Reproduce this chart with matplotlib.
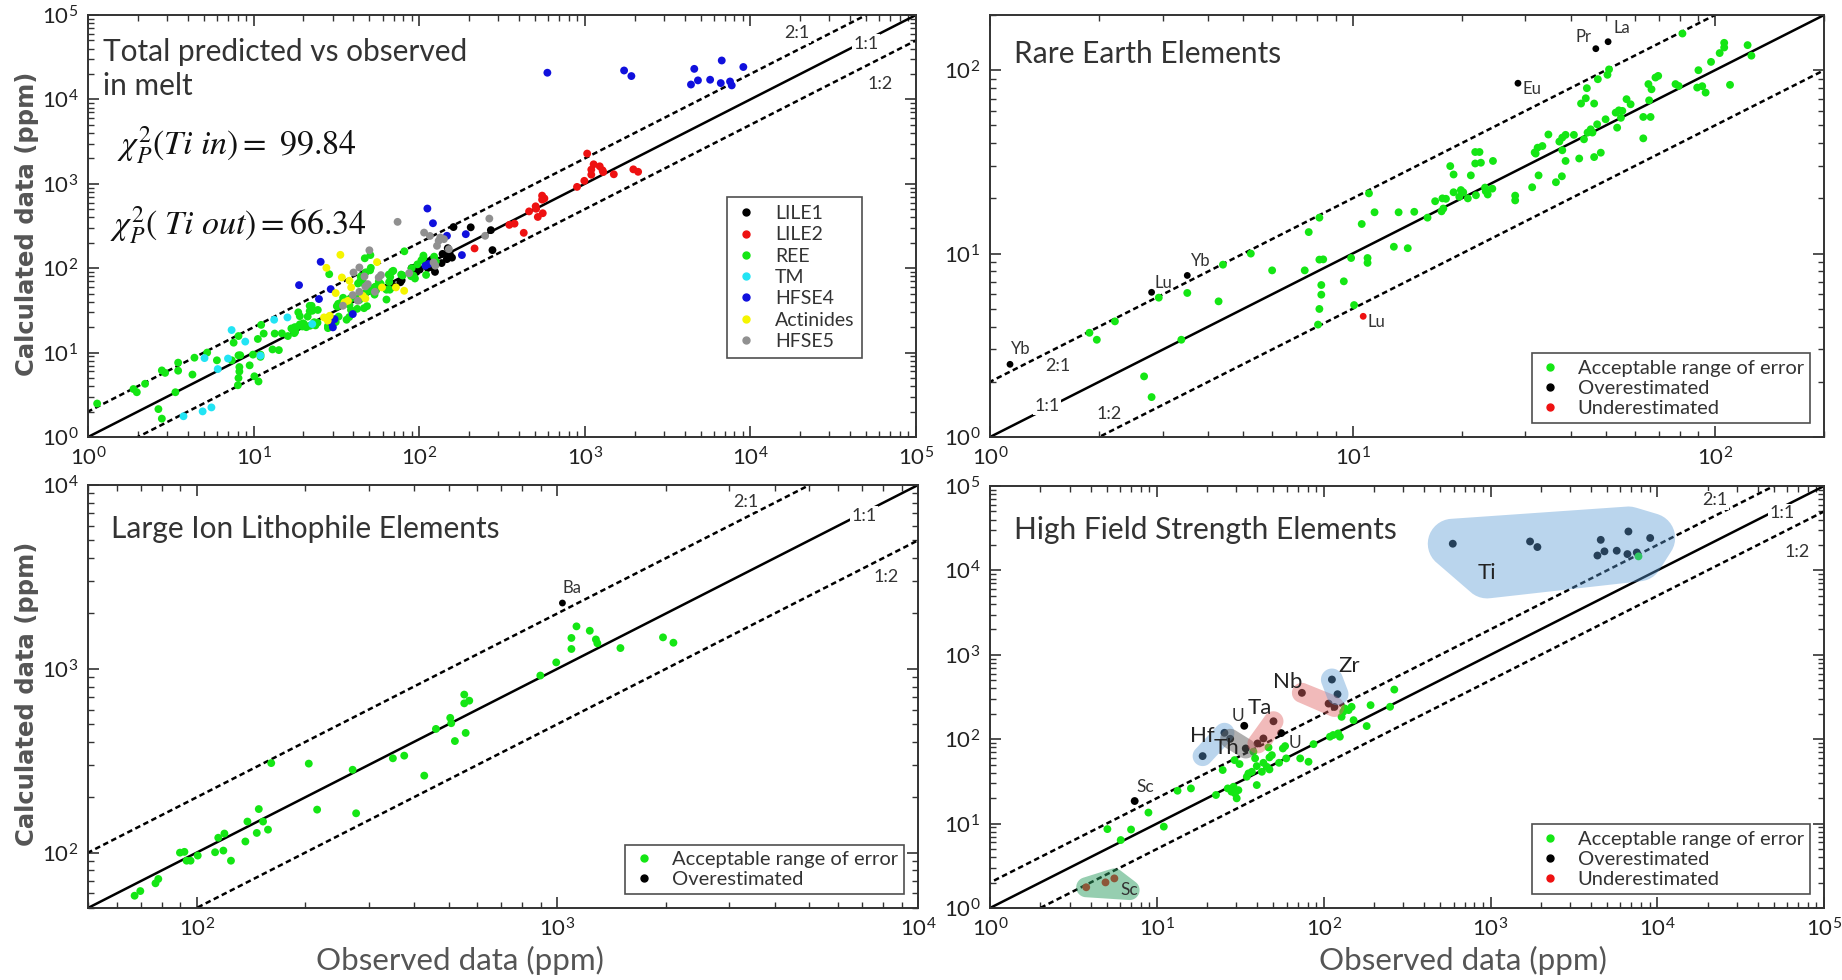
import numpy as np
import matplotlib.pyplot as plt
from matplotlib.lines import Line2D
from matplotlib.patches import Polygon
from matplotlib.ticker import LogLocator, NullFormatter

# ---------------- data ----------------
# Rare earth elements (unlabelled points)
ree_x = [1.88, 1.97, 2.21, 2.66, 2.79, 2.92, 3.37, 3.5, 4.27, 4.39, 5.24, 6.0, 7.38, 7.57, 8.1, 8.1, 8.3,
         8.2, 8.2, 8.1, 8.03, 9.46, 9.91, 10.1, 10.6, 11.0, 11.0, 11.5, 13.0, 13.4, 14.2,
         11.1, 14.8, 16.1, 16.9, 17.7, 18.1, 17.6, 17.8, 18.6, 19.0, 19.0, 19.9, 20.2, 19.7, 20.8, 21.2,
         21.8, 22.4, 21.8, 22.6, 21.9, 23.2, 24.3, 23.6, 23.3, 24.4, 28.1, 28.1, 31.3, 32.6, 31.8, 33.4,
         32.4, 32.0, 34.7, 36.4, 37.8, 37.2, 37.9, 38.7, 40.8, 37.9, 38.7, 42.2, 43.5, 44.5, 45.4, 45.9,
         46.4, 48.4, 47.3, 42.7, 44.0, 46.4, 44.3, 47.5, 50.5, 51.0, 49.9, 53.7, 53.2, 54.3, 55.0, 55.5,
         57.0, 58.5, 63.4, 66.4, 63.4, 65.8, 65.5, 66.8, 68.5, 69.7, 77.8, 79.4, 81.3, 90.0, 89.3, 92.2,
         94.2, 97.5, 103, 106, 106, 110, 123, 126]
ree_y = [3.7, 3.39, 4.27, 2.14, 1.65, 5.75, 3.39, 6.1, 5.49, 8.7, 10.0, 8.1, 8.1, 13.1, 15.7, 9.27, 9.3,
         6.74, 5.97, 4.99, 4.1, 7.06, 9.46, 5.24, 14.5, 9.46, 8.9, 16.8, 10.9, 16.8, 10.7,
         21.3, 16.9, 15.7, 19.3, 20.0, 19.9, 17.0, 17.6, 30.0, 27.0, 21.6, 22.2, 21.6, 20.4, 20.0, 26.7,
         35.8, 35.8, 31.0, 31.3, 20.8, 22.9, 22.6, 21.0, 21.9, 32.0, 20.7, 19.5, 23.0, 26.7, 35.6, 38.6,
         37.8, 35.1, 44.6, 24.5, 26.4, 40.8, 42.9, 44.4, 44.4, 36.6, 32.0, 33.0, 42.0, 45.7, 47.6, 45.7,
         33.6, 35.5, 50.7, 65.8, 70.3, 65.8, 79.8, 89.3, 94.4, 101, 54.0, 48.6, 58.7, 60.4, 55.0, 60.0,
         69.5, 65.2, 55.6, 55.6, 42.5, 68.5, 84.0, 78.7, 91.2, 93.1, 84.0, 82.0, 158.5, 100, 80.4, 81.8,
         75.5, 111, 124, 133, 141, 83.2, 137, 120]
ree_tag = ['Yb', 'Lu', 'Yb', 'Eu', 'Pr', 'La', 'Lu']
ree_tag_x = [1.135, 2.79, 3.5, 28.6, 46.9, 50.7, 10.7]
ree_tag_y = [2.49, 6.15, 7.6, 84.9, 131, 143, 4.55]

# Large ion lithophile elements
lile1_x = [67.3, 69.8, 76.9, 78.3, 89.9, 92.5, 93.8, 96.2, 100.7, 112.5, 118.6, 114.8, 119.4, 124.5,
           136.5, 138.3, 146.8, 148.7, 152.8, 157.7, 161, 204.6, 270.7, 276.8]
lile1_y = [58.3, 61.8, 68.1, 71.9, 100, 101, 90.4, 90.4, 96.4, 100.5, 102.6, 120.5, 127, 90.4,
           115, 147.6, 128, 172.6, 147.6, 133.4, 307, 305, 282.4, 163.7]
lile2_x = [215.8, 350, 376.3, 427.6, 460.7, 504.7, 508, 520, 552, 552, 570, 557, 897, 993, 1094, 1094,
           1130, 1230, 1279, 1291, 1496, 1963, 2098]
lile2_y = [171.4, 326, 337, 262.4, 471, 541, 506, 404.6, 724, 649, 671, 448, 919, 1084, 1282, 1472,
           1702, 1611, 1445, 1377, 1297, 1483, 1387]
ba_x = [1033]
ba_y = [2280]

# High field strength elements, by element / group
sc_x = [3.77, 4.92, 5.56, 7.36]
sc_y = [1.76, 2.01, 2.24, 18.5]
tm_x = [5.05, 6.07, 7.0, 8.9, 11.0, 13.3, 16.0, 22.6]
tm_y = [8.6, 6.38, 8.5, 13.5, 9.2, 24.5, 26.1, 21.8]
ti_x = [594, 1726, 1910, 4580, 4375, 4820, 5710, 6710, 6620, 7530, 9060, 7710]
ti_y = [20700, 22000, 18900, 23000, 15000, 16800, 17100, 28900, 15600, 16300, 24200, 14650]
zr_x = [112, 121]
zr_y = [509, 341]
hf_x = [18.8, 25.4]
hf_y = [63, 119]
hfse4_x = [24.8, 29.2, 29.4, 30.1, 30.8, 39.7, 181, 191, 147, 109, 114]
hfse4_y = [43.1, 56.5, 22.8, 19.9, 24.9, 28.6, 143, 253, 242, 107, 112]
th_x = [27.5, 34.1]
th_y = [101, 77.6]
u_x = [33.4, 55.6]
u_y = [144, 118]
act_x = [26.6, 28.8, 31.3, 35.4, 37.1, 38.8, 59.6, 72.3, 81.1, 37.9, 45.6, 47.3, 28.0]
act_y = [26.1, 27.3, 50.7, 39.3, 41.1, 59.2, 59.2, 59.2, 54.0, 71.0, 47.1, 43.8, 23.9]
nb_x = [74, 107, 116]
nb_y = [354, 264, 241]
ta_x = [50, 43.5, 40.1]
ta_y = [163, 102, 88.9]
hfse5_x = [265, 250, 141, 128, 134, 131, 34.6, 47.3, 48.9, 58.7, 56.9, 54.0, 122, 125, 86.9, 151,
           39.7, 42.6, 43.5, 46.7]
hfse5_y = [387, 242, 221, 184, 231, 211, 35.9, 60.8, 64.7, 82.8, 77.6, 52.5, 117, 107, 87.3, 168,
           48.0, 41.1, 52.5, 79.8]

# ---------------- style ----------------
plt.rcParams['font.family'] = ['Lato', 'DejaVu Sans']
plt.rcParams['mathtext.fontset'] = 'stix'
plt.rcParams['axes.linewidth'] = 1.4
plt.rcParams['axes.edgecolor'] = '#333333'

GREEN = '#14e614'
RED = '#ee1111'
BLUE = '#1010dd'
CYAN = '#22e4f4'
YELLOW = '#f5f500'
GRAY = '#909090'
TXT = '#333333'
LBL = '#555555'
MS = 32


def status_colors(x, y):
    x = np.asarray(x, float)
    y = np.asarray(y, float)
    c = np.where(y > 2 * x, 'k', np.where(y < 0.5 * x, RED, GREEN))
    return c


def setup(ax, lim_x, lim_y):
    ax.set_xscale('log')
    ax.set_yscale('log')
    ax.set_xlim(lim_x)
    ax.set_ylim(lim_y)
    for a in (ax.xaxis, ax.yaxis):
        a.set_major_locator(LogLocator(base=10, numticks=20))
        a.set_minor_locator(LogLocator(base=10, subs=np.arange(2, 10), numticks=100))
        a.set_minor_formatter(NullFormatter())
    ax.tick_params(which='both', direction='in', top=True, right=True, colors='#333333',
                   labelsize=16, labelcolor='#222222', pad=7)
    ax.tick_params(which='major', length=8, width=1.2)
    ax.tick_params(which='minor', length=4, width=1.0)


def ratio_lines(ax, lab21, lab11, lab12):
    lo, hi = ax.get_xlim()
    xx = np.array([lo / 4, hi * 4])
    ax.plot(xx, xx, color='k', lw=1.8, zorder=2)
    ax.plot(xx, 2 * xx, color='k', lw=1.8, ls=(0, (2.2, 1.4)), zorder=2)
    ax.plot(xx, 0.5 * xx, color='k', lw=1.8, ls=(0, (2.2, 1.4)), zorder=2)
    for txt, pos in (('2:1', lab21), ('1:1', lab11), ('1:2', lab12)):
        ax.text(pos[0], pos[1], txt, fontsize=13, color=TXT, ha='center', va='center', zorder=6,
                bbox=dict(fc='white', ec='none', pad=1.0))


def hull(points):
    pts = sorted(map(tuple, points))

    def cross(o, a, b):
        return (a[0] - o[0]) * (b[1] - o[1]) - (a[1] - o[1]) * (b[0] - o[0])
    lower, upper = [], []
    for p in pts:
        while len(lower) >= 2 and cross(lower[-2], lower[-1], p) <= 0:
            lower.pop()
        lower.append(p)
    for p in reversed(pts):
        while len(upper) >= 2 and cross(upper[-2], upper[-1], p) <= 0:
            upper.pop()
        upper.append(p)
    return np.array(lower[:-1] + upper[:-1])


def blob(ax, xs, ys, pad, color, alpha):
    pts = ax.transData.transform(np.column_stack([xs, ys]))
    ang = np.linspace(0, 2 * np.pi, 40, endpoint=False)
    ring = np.column_stack([np.cos(ang), np.sin(ang)]) * pad
    cloud = (pts[:, None, :] + ring[None, :, :]).reshape(-1, 2)
    verts = ax.transData.inverted().transform(hull(cloud))
    ax.add_patch(Polygon(verts, closed=True, fc=color, ec='none', alpha=alpha, zorder=4))


def status_legend(ax, with_under=True):
    h = [Line2D([], [], marker='o', ls='none', color=GREEN, ms=5, label='Acceptable range of error'),
         Line2D([], [], marker='o', ls='none', color='k', ms=5, label='Overestimated')]
    if with_under:
        h.append(Line2D([], [], marker='o', ls='none', color=RED, ms=5, label='Underestimated'))
    leg = ax.legend(handles=h, loc='lower right', fontsize=14.5, frameon=True, fancybox=False,
                    edgecolor='#222222', handlelength=1.2, handletextpad=0.8, borderpad=0.3,
                    labelspacing=0.15, borderaxespad=0.7)
    leg.get_frame().set_linewidth(1.2)
    for t in leg.get_texts():
        t.set_color(TXT)


fig = plt.figure(figsize=(18.42, 9.8), dpi=100)
ax_tl = fig.add_axes([0.0478, 0.5541, 0.4495, 0.4306])
ax_tr = fig.add_axes([0.5375, 0.5541, 0.4528, 0.4306])
ax_bl = fig.add_axes([0.0478, 0.0735, 0.4506, 0.4316])
ax_br = fig.add_axes([0.5375, 0.0735, 0.4528, 0.4306])

# ---------------- top left: all groups ----------------
ax = ax_tl
setup(ax, (1, 1e5), (1, 1e5))
ratio_lines(ax, (19000, 61000), (50000, 45400), (60600, 15200))
groups = [
    ('LILE1', lile1_x, lile1_y, 'k'),
    ('LILE2', lile2_x + ba_x, lile2_y + ba_y, RED),
    ('REE', ree_x + ree_tag_x, ree_y + ree_tag_y, GREEN),
    ('TM', sc_x + tm_x, sc_y + tm_y, CYAN),
    ('HFSE4', ti_x + zr_x + hf_x + hfse4_x, ti_y + zr_y + hf_y + hfse4_y, BLUE),
    ('Actinides', th_x + u_x + act_x, th_y + u_y + act_y, YELLOW),
    ('HFSE5', nb_x + ta_x + hfse5_x, nb_y + ta_y + hfse5_y, GRAY),
]
handles = []
for name, gx, gy, col in groups:
    ax.scatter(gx, gy, s=MS, color=col, edgecolors='none', zorder=3)
    handles.append(Line2D([], [], marker='o', ls='none', color=col, ms=5, label=name))
leg = ax.legend(handles=handles, loc='lower right', bbox_to_anchor=(0.947, 0.165), fontsize=14,
                fancybox=False, edgecolor='#222222', handlelength=1.2, handletextpad=0.9,
                borderpad=0.4, labelspacing=0.22)
leg.get_frame().set_linewidth(1.2)
for t in leg.get_texts():
    t.set_color(TXT)
ax.text(0.018, 0.945, 'Total predicted vs observed\nin melt', transform=ax.transAxes, fontsize=21.5,
        color='#333333', va='top', ha='left', linespacing=1.25)
ax.text(0.035, 0.692, r'$\chi^2_P(Ti\ in) =\ 99.84$', transform=ax.transAxes, fontsize=24.5,
        va='center', ha='left', color='#111111')
ax.text(0.027, 0.502, r'$\chi^2_P(\ Ti\ out) = 66.34$', transform=ax.transAxes, fontsize=24.5,
        va='center', ha='left', color='#111111')

# ---------------- top right: REE ----------------
ax = ax_tr
setup(ax, (1, 200), (1, 200))
ratio_lines(ax, (1.54, 2.44), (1.436, 1.477), (2.13, 1.34))
ax.scatter(ree_x, ree_y, s=MS, c=status_colors(ree_x, ree_y), edgecolors='none', zorder=3)
ax.scatter(ree_tag_x, ree_tag_y, s=24, c=status_colors(ree_tag_x, ree_tag_y), edgecolors='none', zorder=3)
ree_offsets = [(1, 5, 'left', 'bottom'), (2, 1, 'left', 'bottom'), (3, 5, 'left', 'bottom'),
               (3, -4, 'left', 'center'), (-3, 3, 'right', 'bottom'), (4, 4, 'left', 'bottom'),
               (3, -4, 'left', 'center')]
for name, px, py, (dx, dy, ha, va) in zip(ree_tag, ree_tag_x, ree_tag_y, ree_offsets):
    ax.annotate(name, (px, py), xytext=(dx, dy), textcoords='offset points', ha=ha, va=va,
                fontsize=12, color=TXT, zorder=6)
ax.text(0.029, 0.94, 'Rare Earth Elements', transform=ax.transAxes, fontsize=21.5, color='#333333',
        va='top', ha='left')
status_legend(ax)

# ---------------- bottom left: LILE ----------------
ax = ax_bl
setup(ax, (50, 1e4), (50, 1e4))
ratio_lines(ax, (3327, 8090), (7100, 6790), (8170, 3160))
lile_x = lile1_x + lile2_x
lile_y = lile1_y + lile2_y
ax.scatter(lile_x, lile_y, s=MS, c=status_colors(lile_x, lile_y), edgecolors='none', zorder=3)
ax.scatter(ba_x, ba_y, s=24, c=status_colors(ba_x, ba_y), edgecolors='none', zorder=3)
ax.annotate('Ba', (ba_x[0], ba_y[0]), xytext=(0, 5), textcoords='offset points', ha='left',
            va='bottom', fontsize=12, color=TXT)
ax.text(0.028, 0.93, 'Large Ion Lithophile Elements', transform=ax.transAxes, fontsize=21.5,
        color='#333333', va='top', ha='left')
status_legend(ax, with_under=False)

# ---------------- bottom right: HFSE ----------------
ax = ax_br
setup(ax, (1, 1e5), (1, 1e5))
ratio_lines(ax, (22200, 67500), (56000, 47300), (68900, 16300))
hx = sc_x + tm_x + ti_x + zr_x + hf_x + hfse4_x + th_x + u_x + act_x + nb_x + ta_x + hfse5_x
hy = sc_y + tm_y + ti_y + zr_y + hf_y + hfse4_y + th_y + u_y + act_y + nb_y + ta_y + hfse5_y
ax.scatter(hx, hy, s=MS, c=status_colors(hx, hy), edgecolors='none', zorder=3)

blob(ax, ti_x + [955], ti_y + [9200], 25, '#5b9bd5', 0.42)
blob(ax, sc_x[:3] + [6.86], sc_y[:3] + [1.63], 10, '#2e9e62', 0.5)
blob(ax, hf_x, hf_y, 10, '#5b9bd5', 0.42)
blob(ax, th_x, th_y, 10, '#606060', 0.5)
blob(ax, ta_x, ta_y, 10, '#e06666', 0.45)
blob(ax, nb_x, nb_y, 10, '#e06666', 0.45)
blob(ax, zr_x, zr_y, 11, '#5b9bd5', 0.42)

big = dict(fontsize=16, color='#222222', ha='center', va='center', zorder=6)
small = dict(fontsize=12.5, color=TXT, ha='center', va='center', zorder=6)
ax.text(955, 9200, 'Ti', **big)
ax.text(18.7, 108.6, 'Hf', **big)
ax.text(26, 78.2, 'Th', **big)
ax.text(41.6, 233, 'Ta', **big)
ax.text(61.2, 473, 'Nb', **big)
ax.text(142, 731, 'Zr', **big)
ax.text(30.7, 187, 'U', **small)
ax.text(67.4, 89.7, 'U', **small)
ax.text(6.86, 1.63, 'Sc', **small)
ax.annotate('Sc', (sc_x[3], sc_y[3]), xytext=(1, 4), textcoords='offset points', ha='left',
            va='bottom', fontsize=12.5, color=TXT)
ax.text(0.029, 0.93, 'High Field Strength Elements', transform=ax.transAxes, fontsize=21.5,
        color='#333333', va='top', ha='left')
status_legend(ax)

# ---------------- axis labels ----------------
for yc in (224, 694):
    fig.text(27 / 1842, 1 - yc / 980, 'Calculated data (ppm)', rotation=90, ha='center', va='center',
             fontsize=17.5, fontweight='bold', color=LBL, family='DejaVu Sans')
for xc in (460, 1463):
    fig.text(xc / 1842, 1 - 960 / 980, 'Observed data (ppm)', ha='center', va='center', fontsize=22.5,
             color=LBL)

fig.savefig('out.png', dpi=100)
